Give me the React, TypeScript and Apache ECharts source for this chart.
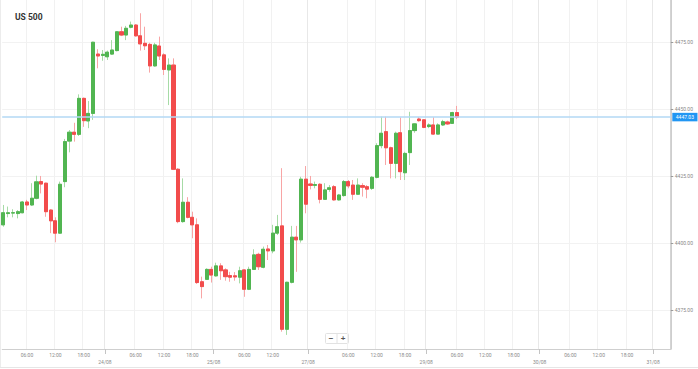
import React, { useEffect, useRef } from "react";
import * as echarts from "echarts";

// Hourly candles (index i sits on half-slot 2*i of the x axis)
const openPrices = [
  4406.9, 4411.1, 4411.3, 4411.1, 4411.4, 4415.4, 4414.3, 4416.8, 4423.0, 4422.4,
  4412.4, 4408.4, 4403.8, 4423.0, 4438.1, 4441.4, 4440.6, 4454.0, 4445.6, 4448.4,
  4470.5, 4470.0, 4469.5, 4470.5, 4471.8, 4478.8, 4477.6, 4480.5, 4481.3, 4477.3,
  4474.5, 4474.1, 4466.1, 4473.5, 4470.2, 4464.6, 4466.4, 4427.6, 4408.1, 4415.3,
  4409.7, 4406.9, 4385.7, 4386.6, 4390.3, 4387.9, 4391.6, 4390.1, 4388.0, 4387.9,
  4387.4, 4390.1, 4382.9, 4390.3, 4395.9, 4391.1, 4397.9, 4397.2, 4403.8, 4406.5,
  4368.0, 4385.5, 4402.3, 4401.3, 4423.9, 4422.1, 4421.6, 4422.0, 4416.4, 4420.1,
  4421.1, 4416.2, 4417.8, 4423.0, 4421.7, 4418.3, 4421.5, 4421.1, 4420.5, 4424.6,
  4436.4, 4441.6, 4435.6, 4429.8, 4441.2, 4426.3, 4433.8, 4442.0, 4446.3, 4446.0,
  4443.5, 4444.1, 4440.7, 4444.1, 4445.2, 4444.7, 4448.7,
];
const closePrices = [
  4411.4, 4411.4, 4411.4, 4411.8, 4415.4, 4414.3, 4416.8, 4422.9, 4422.1, 4411.8,
  4408.4, 4403.8, 4422.0, 4437.9, 4441.4, 4440.6, 4454.0, 4445.7, 4448.4, 4474.9,
  4469.8, 4470.4, 4471.2, 4472.0, 4478.8, 4477.6, 4480.1, 4481.3, 4477.3, 4474.3,
  4473.6, 4466.1, 4473.9, 4469.8, 4464.8, 4466.4, 4427.6, 4408.1, 4415.3, 4409.7,
  4406.9, 4385.4, 4383.9, 4390.3, 4388.2, 4391.6, 4389.8, 4387.6, 4387.4, 4387.5,
  4389.8, 4382.9, 4390.3, 4395.7, 4391.3, 4397.8, 4397.2, 4403.8, 4406.2, 4368.0,
  4385.5, 4402.3, 4401.3, 4423.9, 4414.6, 4421.6, 4421.9, 4416.4, 4419.9, 4420.7,
  4416.2, 4418.0, 4423.0, 4421.4, 4418.3, 4421.7, 4420.9, 4420.2, 4424.6, 4436.4,
  4441.0, 4435.6, 4429.8, 4441.0, 4426.7, 4433.5, 4442.0, 4444.5, 4445.7, 4443.2,
  4444.1, 4440.7, 4444.1, 4445.3, 4444.5, 4448.7, 4447.03,
];
const lowPrices = [
  4406.2, 4409.7, 4409.7, 4409.3, 4411.2, 4412.4, 4413.9, 4416.4, 4418.6, 4409.9,
  4403.8, 4400.4, 4403.5, 4420.9, 4433.9, 4437.9, 4440.0, 4443.4, 4442.9, 4446.0,
  4465.2, 4468.0, 4468.3, 4470.2, 4471.5, 4477.2, 4475.7, 4480.1, 4477.0, 4471.8,
  4472.0, 4463.6, 4465.8, 4468.3, 4462.7, 4451.5, 4427.3, 4407.5, 4407.7, 4409.3,
  4401.9, 4384.9, 4379.5, 4386.4, 4385.4, 4387.6, 4386.4, 4386.1, 4385.7, 4386.1,
  4385.1, 4380.1, 4382.6, 4390.1, 4390.1, 4390.7, 4393.8, 4396.3, 4403.1, 4367.1,
  4365.9, 4385.1, 4389.4, 4400.3, 4411.2, 4420.1, 4420.5, 4414.9, 4416.2, 4419.2,
  4415.9, 4415.9, 4417.4, 4420.5, 4416.2, 4418.0, 4417.4, 4416.8, 4419.9, 4424.2,
  4435.4, 4429.2, 4424.2, 4424.2, 4423.6, 4423.6, 4429.2, 4441.2, 4445.3, 4442.9,
  4442.9, 4440.4, 4440.6, 4443.7, 4444.1, 4444.5, 4446.3,
];
const highPrices = [
  4414.3, 4413.7, 4412.7, 4412.4, 4415.8, 4416.2, 4422.4, 4425.2, 4425.1, 4422.6,
  4412.7, 4409.7, 4423.0, 4438.9, 4442.2, 4444.9, 4455.5, 4454.3, 4453.0, 4475.1,
  4472.3, 4472.0, 4471.8, 4475.7, 4479.0, 4480.7, 4481.0, 4482.6, 4481.7, 4485.7,
  4480.7, 4474.7, 4474.7, 4477.0, 4470.8, 4468.9, 4468.9, 4428.0, 4424.2, 4417.2,
  4411.8, 4409.3, 4387.6, 4390.7, 4391.3, 4392.8, 4392.6, 4390.7, 4389.4, 4389.3,
  4391.3, 4390.3, 4391.3, 4397.8, 4396.5, 4398.8, 4399.4, 4406.9, 4410.6, 4428.0,
  4385.7, 4406.5, 4406.5, 4424.8, 4428.8, 4425.1, 4423.0, 4422.4, 4422.4, 4421.7,
  4421.7, 4418.4, 4423.6, 4423.6, 4423.6, 4424.2, 4422.4, 4421.7, 4425.1, 4437.3,
  4447.2, 4447.2, 4436.0, 4441.6, 4446.9, 4434.1, 4449.0, 4444.7, 4447.0, 4446.2,
  4444.7, 4447.0, 4444.7, 4446.0, 4445.7, 4449.0, 4451.2,
];

const lastPrice = 4447.03;
const slotCount = 283;

const timeTickSlots = [10, 22, 34, 56, 68, 80, 102, 114, 146, 158, 170, 192, 204, 216, 240, 252, 264];
const timeTickLabels = [
  "06:00", "12:00", "18:00",
  "06:00", "12:00", "18:00",
  "06:00", "12:00",
  "06:00", "12:00", "18:00",
  "06:00", "12:00", "18:00",
  "06:00", "12:00", "18:00",
];
const dateTickSlots = [43, 89, 129, 179, 227, 275];
const dateTickLabels = ["24/08", "25/08", "27/08", "29/08", "30/08", "31/08"];

const yTickValues = { min: 4350, max: 4500, step: 25 };

const UP = "#51b551";
const DOWN = "#f24c4c";
const UP_WICK = "#a6dba6";
const DOWN_WICK = "#f8a5a5";

export default function App() {
  const ref = useRef<HTMLDivElement>(null);

  useEffect(() => {
    if (!ref.current) return;
    const chart = echarts.init(ref.current, undefined, { renderer: "svg" });

    const cats = Array.from({ length: slotCount }, (_, i) => String(i));
    const timeMap: Record<number, string> = {};
    timeTickSlots.forEach((s, k) => (timeMap[s] = timeTickLabels[k]));
    const dateMap: Record<number, string> = {};
    dateTickSlots.forEach((s, k) => (dateMap[s] = dateTickLabels[k]));
    const isTime = (i: number) => timeMap[i] !== undefined;
    const isDate = (i: number) => dateMap[i] !== undefined;

    const wickData = openPrices.map((o, i) => [2 * i, o, closePrices[i], lowPrices[i], highPrices[i]]);
    const bodyData = openPrices.map((o, i) => [
      2 * i,
      o,
      closePrices[i],
      Math.min(o, closePrices[i]),
      Math.max(o, closePrices[i]),
    ]);

    const option: any = {
      animation: false,
      backgroundColor: "#ffffff",
      textStyle: { fontFamily: "Roboto, 'Open Sans', sans-serif" },
      title: {
        text: "US 500",
        left: 10,
        top: 7,
        textStyle: { fontSize: 8.5, fontWeight: "bold", color: "#333333" },
      },
      grid: [
        { left: 2.2, right: 27.2, top: -25.13, bottom: -8.6, outerBoundsMode: "none", containLabel: false },
        { left: 2.2, right: 27.2, top: 0, bottom: 20, outerBoundsMode: "none", containLabel: false },
      ],
      xAxis: [
        { type: "category", gridIndex: 0, data: cats, show: false },
        {
          type: "category",
          gridIndex: 1,
          data: cats,
          position: "bottom",
          axisLine: { show: true, lineStyle: { color: "#cfcfcf", width: 1 } },
          axisTick: { show: false },
          axisLabel: {
            interval: (i: number) => isTime(i),
            formatter: (_v: string, i: number) => timeMap[i] || "",
            fontSize: 5,
            color: "#8a8a8a",
            margin: 3.5,
          },
          splitLine: { show: true, interval: (i: number) => isTime(i), lineStyle: { color: "#f1f1f1" } },
        },
        {
          type: "category",
          gridIndex: 1,
          data: cats,
          position: "bottom",
          axisLine: { show: false },
          axisTick: {
            show: true,
            alignWithLabel: true,
            interval: (i: number) => isDate(i),
            length: 5,
            lineStyle: { color: "#c4c4c4" },
          },
          axisLabel: {
            interval: (i: number) => isDate(i),
            formatter: (_v: string, i: number) => dateMap[i] || "",
            fontSize: 5,
            color: "#8a8a8a",
            margin: 10.5,
          },
          splitLine: { show: true, interval: (i: number) => isDate(i), lineStyle: { color: "#e8e8e8" } },
        },
      ],
      yAxis: [
        {
          type: "value",
          gridIndex: 0,
          position: "right",
          min: yTickValues.min,
          max: yTickValues.max,
          interval: yTickValues.step,
          axisLine: { show: false },
          axisTick: { show: true, length: 2.5, lineStyle: { color: "#9a9a9a" } },
          axisLabel: {
            fontSize: 5,
            color: "#888888",
            margin: 4,
            showMinLabel: false,
            showMaxLabel: false,
            formatter: (v: number) => v.toFixed(2),
          },
          splitLine: { show: true, lineStyle: { color: "#f2f2f2" } },
        },
        {
          type: "value",
          gridIndex: 1,
          position: "right",
          min: 0,
          max: 1,
          axisLine: { show: true, lineStyle: { color: "#c6c6c6", width: 1.5 } },
          axisTick: { show: false },
          axisLabel: { show: false },
          splitLine: { show: false },
        },
      ],
      series: [
        {
          type: "candlestick",
          xAxisIndex: 0,
          yAxisIndex: 0,
          data: wickData,
          encode: { x: 0, y: [1, 2, 3, 4] },
          barWidth: 3.6,
          silent: true,
          itemStyle: {
            color: UP_WICK,
            color0: DOWN_WICK,
            borderColor: UP_WICK,
            borderColor0: DOWN_WICK,
            borderWidth: 1,
          },
        },
        {
          type: "candlestick",
          xAxisIndex: 0,
          yAxisIndex: 0,
          data: bodyData,
          encode: { x: 0, y: [1, 2, 3, 4] },
          barWidth: 3.6,
          silent: true,
          itemStyle: {
            color: UP,
            color0: DOWN,
            borderColor: UP,
            borderColor0: DOWN,
            borderWidth: 1,
          },
          markLine: {
            silent: true,
            symbol: "none",
            animation: false,
            lineStyle: { color: "#b3d9f4", width: 1.5, type: "solid" },
            label: {
              show: true,
              position: "end",
              distance: 1.5,
              formatter: () => lastPrice.toFixed(2),
              backgroundColor: "#2196f3",
              color: "#ffffff",
              fontSize: 5,
              padding: [2, 3.5, 1.5, 3.5],
            },
            data: [{ yAxis: lastPrice }],
          },
        },
      ],
      graphic: [
        { type: "line", shape: { x1: 0.5, y1: 0, x2: 0.5, y2: 367.5 }, style: { stroke: "#ececec", lineWidth: 1 }, silent: true },
        { type: "line", shape: { x1: 0, y1: 367.5, x2: 698, y2: 367.5 }, style: { stroke: "#e6e6e6", lineWidth: 1 }, silent: true },
        {
          type: "rect",
          shape: { x: 325.5, y: 333.5, width: 23, height: 10, r: 1 },
          style: { fill: "#ffffff", stroke: "#e2e2e2", lineWidth: 1 },
          silent: true,
        },
        { type: "line", shape: { x1: 337, y1: 334, x2: 337, y2: 343 }, style: { stroke: "#e2e2e2", lineWidth: 1 }, silent: true },
        {
          type: "text",
          x: 331,
          y: 338.5,
          style: { text: "−", fontSize: 8, fontWeight: "bold", fill: "#555", align: "center", verticalAlign: "middle" },
          silent: true,
        },
        {
          type: "text",
          x: 343,
          y: 338.5,
          style: { text: "+", fontSize: 8, fontWeight: "bold", fill: "#555", align: "center", verticalAlign: "middle" },
          silent: true,
        },
      ],
    };

    chart.setOption(option);
    return () => chart.dispose();
  }, []);

  return (
    <div
      ref={ref}
      style={{ position: "absolute", left: 0, top: 0, width: 698, height: 369, background: "#fff" }}
    />
  );
}
